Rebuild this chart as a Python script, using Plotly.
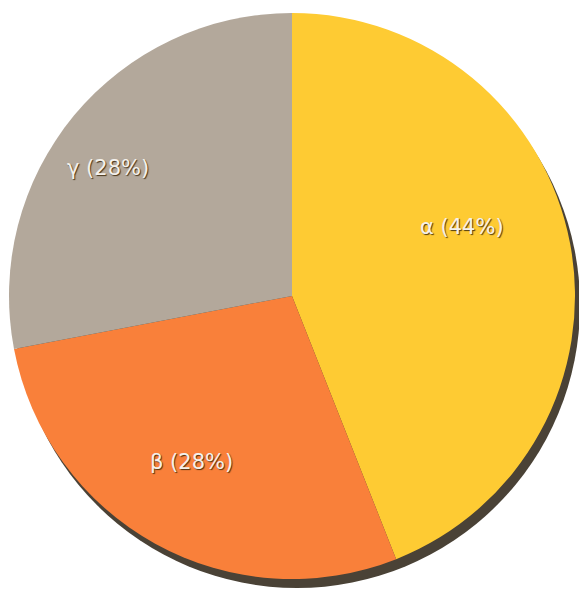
import math
import plotly.graph_objects as go

labels = ["α", "β", "γ"]
values = [44, 28, 28]
colors = ["#FECB33", "#F9803A", "#B3A89B"]

W, H = 587, 594
# pie centre / radius in figure pixels
cx_px, cy_px, R = 284, 288, 283
# apparent (perspective) centre used for label placement
lx_px, ly_px = 263, 273
ml = cx_px - R
mt = cy_px - R
mr = W - (cx_px + R)
mb = H - (cy_px + R)
pw, ph = W - ml - mr, H - mt - mb

def px_to_paper(x, y):
    return (x - ml) / pw, 1 - (y - mt) / ph

# drop shadow behind the pie
sx0, sy0 = px_to_paper(cx_px - R + 5, cy_px - R + 9)
sx1, sy1 = px_to_paper(cx_px + R + 5, cy_px + R + 9)

fig = go.Figure(go.Pie(
    labels=labels,
    values=values,
    sort=False,
    direction="clockwise",
    rotation=0,
    marker=dict(colors=colors, line=dict(width=0)),
    textinfo="none",
    hoverinfo="label+percent",
    showlegend=False,
))

# labels placed along each slice's mid-angle
total = sum(values)
annotations = []
acc = 0
for lab, v in zip(labels, values):
    mid = (acc + v / 2) / total * 2 * math.pi - 0.087
    acc += v
    r = 0.70 * R
    x = lx_px + r * math.sin(mid)
    y = ly_px - r * math.cos(mid)
    ax, ay = px_to_paper(x, y)
    annotations.append(dict(
        x=ax, y=ay, xref="paper", yref="paper", showarrow=False,
        xanchor="center", yanchor="middle",
        text=f"{lab} ({round(v / total * 100)}%)",
        font=dict(family="DejaVu Sans, Arial", size=21, color="#F4F1EC",
                  shadow="1px 1px 1px rgba(60,40,10,0.9)"),
    ))

fig.update_layout(
    width=W, height=H,
    margin=dict(l=ml, r=mr, t=mt, b=mb),
    paper_bgcolor="white",
    plot_bgcolor="white",
    annotations=annotations,
    shapes=[dict(type="circle", xref="paper", yref="paper",
                 x0=sx0, y0=sy1, x1=sx1, y1=sy0,
                 fillcolor="#4A4236", line=dict(width=0), layer="below")],
)

fig.write_html("out.html")
